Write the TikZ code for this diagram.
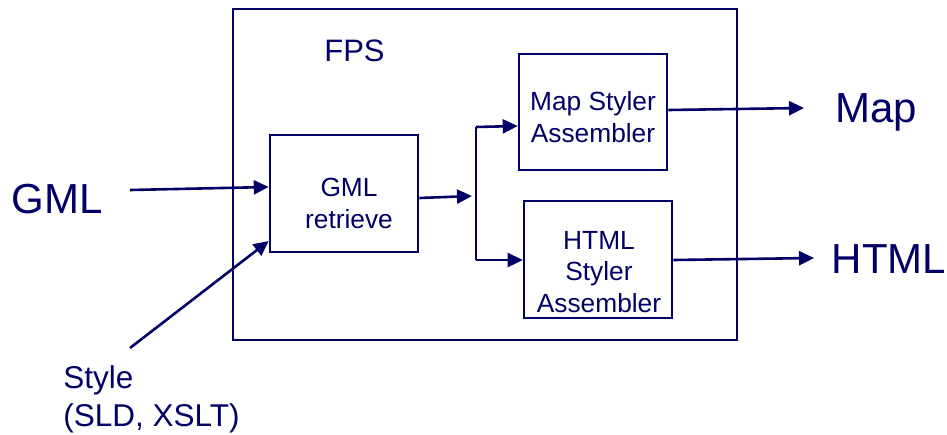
\documentclass[tikz,border=0pt]{standalone}
\usepackage{fontspec}
\setmainfont{Liberation Sans}
\usetikzlibrary{arrows.meta}
\definecolor{navy}{HTML}{000066}
\begin{document}
\begin{tikzpicture}[x=1pt,y=-1pt,
  line width=2.6pt, draw=navy, text=navy,
  blk/.style={draw, rectangle, inner sep=0pt},
  % multi-line labels are placed by the baseline of their last line
  blktxt/.style={anchor=base, inner sep=0pt, align=center,
    font=\fontsize{26.3}{31.5}\selectfont},
  big/.style={anchor=base, inner sep=0pt, font=\fontsize{42}{48}\selectfont},
  arr/.style={-{Triangle[length=15pt,width=14pt]}}]
\useasboundingbox (0,0) rectangle (947,434);
% enclosing FPS frame
\node[blk, minimum width=504pt, minimum height=331pt] (fps) at (485,174.5) {};
\node[anchor=base, inner sep=0pt, font=\fontsize{31}{36}\selectfont] (fpslbl) at (354.5,61) {FPS};
% processing blocks
\node[blk, minimum width=148pt, minimum height=117pt] (ret) at (344,193.5) {};
\node[blk, minimum width=148pt, minimum height=116pt] (map) at (593,112) {};
\node[blk, minimum width=148pt, minimum height=117pt] (html) at (598,259.5) {};
\node[blktxt] (rettxt) at (349,228) {GML\\retrieve};
\node[blktxt] (maptxt) at (593,142) {Map Styler\\Assembler};
\node[blktxt] (htmltxt) at (599,312) {HTML\\Styler\\Assembler};
% inputs and outputs
\node[big] (gml) at (57.5,213) {GML};
\node[big] (mapo) at (876.5,122) {Map};
\node[big] (htmlo) at (889,273) {HTML};
\node[font=\fontsize{31.5}{38}\selectfont, align=left, anchor=base west, inner sep=0pt] (style) at (62,426) {Style\\(SLD, XSLT)};
% connectors
\coordinate (gmlend) at (130,190);
\coordinate (styend) at (130,348);
\coordinate (split) at (472,196);
\coordinate (splittop) at (476,127);
\coordinate (splitbot) at (476,260);
\coordinate (mapend) at (804,108);
\coordinate (htmlend) at (814,258);
\draw[arr] (gmlend) -- (ret.west |- 0,187);
\draw[arr] (styend) -- (ret.south west |- 0,241);
\draw[arr] (ret.east |- 0,198) -- (split);
\draw (splittop) -- (splitbot);
\draw[arr] (splittop) -- (map.west |- 0,126);
\draw[arr] (splitbot) -- (html.west |- 0,260);
\draw[arr] (map.east |- 0,110) -- (mapend);
\draw[arr] (html.east |- 0,260) -- (htmlend);
\end{tikzpicture}
\end{document}
